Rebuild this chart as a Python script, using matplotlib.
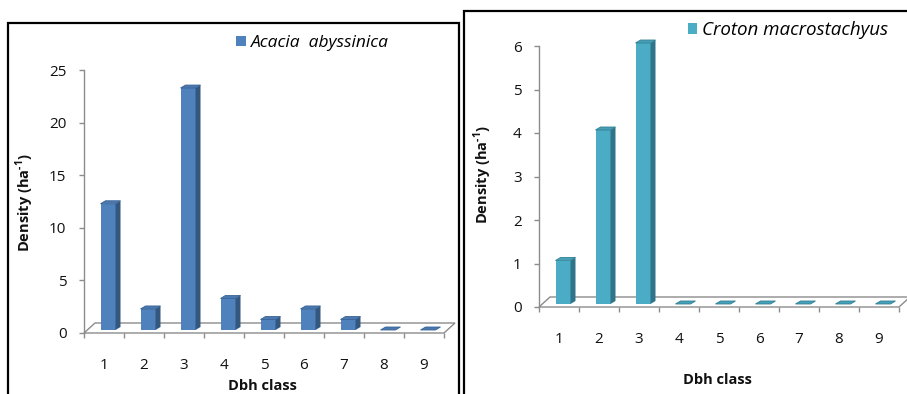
import numpy as np
import matplotlib
matplotlib.use("Agg")
import matplotlib.pyplot as plt
from matplotlib.patches import Polygon, Rectangle
from matplotlib.transforms import ScaledTranslation

W, H, DPI = 907, 394, 100

# ---- data -------------------------------------------------------------
dbh_classes = [1, 2, 3, 4, 5, 6, 7, 8, 9]
dbh_labels = ["1", "2", "3", "4", "5", "6", "7", "8", "9"]
acacia_density = [12, 2, 23, 3, 1, 2, 1, 0, 0]
croton_density = [1, 4, 6, 0, 0, 0, 0, 0, 0]
acacia_yticks = [0, 5, 10, 15, 20, 25]
croton_yticks = [0, 1, 2, 3, 4, 5, 6]
acacia_name = "Acacia  abyssinica"
croton_name = "Croton macrostachyus"

# ---- style ------------------------------------------------------------
plt.rcParams["font.family"] = ["Open Sans", "DejaVu Sans"]
plt.rcParams["mathtext.fontset"] = "custom"
plt.rcParams["mathtext.rm"] = "Open Sans:bold"
plt.rcParams["mathtext.bf"] = "Open Sans:bold"

AXIS_GREY = "#8c8c8c"
TEXT = "#111111"
ACACIA = dict(front="#4f81bd", side="#34577f", top="#4a78b0", edge="#3b6495")
CROTON = dict(front="#4bacc6", side="#2f7488", top="#45a0b8", edge="#347f93")

YLABEL = r"Density (ha$^{\text{-1}}$)"

fig = plt.figure(figsize=(W / DPI, H / DPI), dpi=DPI)
fig.patch.set_facecolor("white")


def make_axes(x0, y0, w, h):
    """x0: left edge in px, y0: baseline (value 0) in px from the top."""
    return fig.add_axes([x0 / W, (H - y0) / H, w / W, h / H])


def draw_panel(ax, w_px, h_px, values, yticks, colors, name):
    ymax = yticks[-1]
    ax.set_xlim(0.5, 9.5)
    ax.set_ylim(0, ymax)
    px_x = w_px / 9.0
    px_y = h_px / ymax

    def ux(p):
        return p / px_x

    def uy(p):
        return p / px_y

    # floor of the 3-D plot area
    fdx, fdy = ux(11), uy(10)
    floor = Polygon([(0.5, 0), (9.5, 0), (9.5 + fdx, fdy), (0.5 + fdx, fdy)],
                    closed=True, facecolor="white", edgecolor=AXIS_GREY,
                    lw=1.0, clip_on=False, zorder=1)
    ax.add_patch(floor)

    # bars: front faces sit slightly inside the floor
    shift = ax.transData + ScaledTranslation(4 / DPI, 3 / DPI, fig.dpi_scale_trans)
    bw = ux(15)
    ddx, ddy = ux(5), uy(3)
    xs = np.asarray(dbh_classes, dtype=float)
    bars = ax.bar(xs, values, width=bw, color=colors["front"], label=name,
                  transform=shift, zorder=3, clip_on=False, lw=0)
    for x, v in zip(xs, values):
        r = x + bw / 2
        l = x - bw / 2
        if v > 0:
            side = Polygon([(r, 0), (r + ddx, ddy), (r + ddx, v + ddy), (r, v)],
                           closed=True, facecolor=colors["side"], lw=0,
                           transform=shift, zorder=3, clip_on=False)
            ax.add_patch(side)
        top = Polygon([(l, v), (r, v), (r + ddx, v + ddy), (l + ddx, v + ddy)],
                      closed=True, facecolor=colors["top"],
                      edgecolor=colors["edge"], lw=0.6,
                      transform=shift, zorder=4, clip_on=False)
        ax.add_patch(top)

    # axes styling
    for s in ("top", "right", "bottom"):
        ax.spines[s].set_visible(False)
    ax.spines["left"].set_color(AXIS_GREY)
    ax.spines["left"].set_linewidth(1.0)
    ax.patch.set_alpha(0)

    ax.set_yticks(yticks)
    ax.set_yticklabels([str(t) for t in yticks])
    ax.tick_params(axis="y", direction="out", length=3.6, width=1.0,
                   color=AXIS_GREY, pad=9, labelsize=11, labelcolor=TEXT)

    ax.set_xticks(dbh_classes)
    ax.set_xticklabels(dbh_labels)
    ax.set_xticks(np.arange(0.5, 9.6, 1.0), minor=True)
    ax.tick_params(axis="x", which="major", length=0, pad=18, labelsize=11,
                   labelcolor=TEXT)
    ax.tick_params(axis="x", which="minor", direction="out", length=3.6,
                   width=1.0, color=AXIS_GREY)
    return bars


# ---- left panel: Acacia abyssinica ------------------------------------
axL = make_axes(84, 333, 360, 263)
barsL = draw_panel(axL, 360, 263, acacia_density, acacia_yticks, ACACIA, acacia_name)
fig.text(25 / W, 1 - 203 / H, YLABEL, rotation=90,
         ha="center", va="center", fontsize=10.5, fontweight="bold", color=TEXT)
fig.text(262 / W, 1 - 386 / H, "Dbh class", ha="center", va="center",
         fontsize=10.5, fontweight="bold", color=TEXT)
axL.legend(handles=[barsL], loc="center left",
           bbox_to_anchor=(236 / W, 1 - 43 / H), bbox_transform=fig.transFigure,
           frameon=False, borderpad=0, borderaxespad=0, handlelength=0.55,
           handleheight=0.55, handletextpad=0.3,
           prop=dict(style="italic", size=12.5))

# ---- right panel: Croton macrostachyus --------------------------------
axR = make_axes(539, 307, 360, 261)
barsR = draw_panel(axR, 360, 261, croton_density, croton_yticks, CROTON, croton_name)
fig.text(483 / W, 1 - 175 / H, YLABEL, rotation=90,
         ha="center", va="center", fontsize=10.5, fontweight="bold", color=TEXT)
fig.text(717 / W, 1 - 380 / H, "Dbh class", ha="center", va="center",
         fontsize=10.5, fontweight="bold", color=TEXT)
axR.legend(handles=[barsR], loc="center left",
           bbox_to_anchor=(688 / W, 1 - 30 / H), bbox_transform=fig.transFigure,
           frameon=False, borderpad=0, borderaxespad=0, handlelength=0.5,
           handleheight=0.5, handletextpad=0.25,
           prop=dict(style="italic", size=13.5))

# ---- panel frames -----------------------------------------------------
frame_lw = 1.6
fig.add_artist(Rectangle((8 / W, -0.05), (459 - 8) / W, (1 - 23 / H) + 0.05,
                         transform=fig.transFigure, fill=False,
                         edgecolor="black", lw=frame_lw, clip_on=False))
fig.add_artist(Rectangle((464 / W, -0.05), 0.5, (1 - 11 / H) + 0.05,
                         transform=fig.transFigure, fill=False,
                         edgecolor="black", lw=frame_lw, clip_on=False))

fig.savefig("out.png", dpi=DPI)
